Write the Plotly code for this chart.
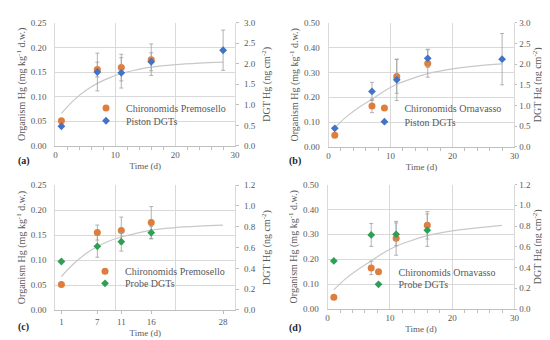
import plotly.graph_objects as go

# ---------------- data ----------------
t_chir = [1, 7, 11, 16]
t_dgt = [1, 7, 11, 16, 28]
t_probe = [1, 7, 11, 16]
fit_t = [1, 3, 5, 7, 9, 11, 13, 16, 20, 24, 28]

# (a) Premosello / piston
chir_prem = [0.051, 0.155, 0.159, 0.175]
chir_prem_err = [0, 0.015, 0.027, 0.032]
piston_prem = [0.48, 1.80, 1.78, 2.05, 2.33]
piston_prem_err = [0, 0.46, 0.37, 0.22, 0.49]
fit_a = [0.066, 0.092, 0.112, 0.127, 0.138, 0.147, 0.153, 0.160, 0.165, 0.168, 0.170]

# (b) Ornavasso / piston
chir_orn = [0.047, 0.165, 0.284, 0.336]
chir_orn_err = [0, 0.027, 0.068, 0.055]
piston_orn = [0.45, 1.34, 1.62, 2.14, 2.12]
piston_orn_err = [0, 0.22, 0.50, 0.22, 0.62]
fit_b = [0.077, 0.124, 0.161, 0.192, 0.225, 0.252, 0.271, 0.295, 0.314, 0.326, 0.334]

# (c) Premosello / probe
probe_prem = [0.466, 0.612, 0.656, 0.743]
probe_prem_err = [0, 0.105, 0.09, 0.06]
fit_c = [0.067, 0.092, 0.112, 0.127, 0.138, 0.146, 0.152, 0.160, 0.165, 0.168, 0.170]

# (d) Ornavasso / probe
probe_orn = [0.464, 0.714, 0.72, 0.76]
probe_orn_err = [0, 0.11, 0.11, 0.156]
fit_d = [0.077, 0.124, 0.161, 0.193, 0.226, 0.252, 0.271, 0.295, 0.314, 0.326, 0.336]

x_ticks_c = [1, 7, 11, 16, 28]

# ---------------- style ----------------
W, H = 550, 340
FONT = "Liberation Serif, DejaVu Serif, serif"
TXT = "#595959"
GRID = "#D9D9D9"
ORANGE = "#DE7D3C"
BLUE = "#4472C4"
GREEN = "#2E9F55"
ERR = "#A0A0A0"
FIT = "#C8C8C8"

def px(x):
    return x / W

def py(y):
    return 1 - y / H

panels = [
    dict(key="a", x=(46, 228), y=(10, 137), yl=0.25, dl=0.05, yr=3.0, dr=0.5,
         chir=chir_prem, chir_err=chir_prem_err, chir_name="Chironomids Premosello",
         dgt_t=t_dgt, dgt=piston_prem, dgt_err=piston_prem_err, dgt_name="Piston DGTs",
         dgt_col=BLUE, fit=fit_a, leg_x=127, leg_y=(108, 121), rstand=8, rlab=3, rlen=3),
    dict(key="b", x=(322.7, 511), y=(10, 138), yl=0.50, dl=0.1, yr=3.0, dr=0.5,
         chir=chir_orn, chir_err=chir_orn_err, chir_name="Chironomids Ornavasso",
         dgt_t=t_dgt, dgt=piston_orn, dgt_err=piston_orn_err, dgt_name="Piston DGTs",
         dgt_col=BLUE, fit=fit_b, leg_x=409, leg_y=(108, 122), rstand=0, rlab=0, rlen=2),
    dict(key="c", x=(46, 228), y=(177.3, 306), yl=0.25, dl=0.05, yr=1.2, dr=0.2,
         chir=chir_prem, chir_err=chir_prem_err, chir_name="Chironomids Premosello",
         dgt_t=t_probe, dgt=probe_prem, dgt_err=probe_prem_err, dgt_name="Probe DGTs",
         dgt_col=GREEN, fit=fit_c, leg_x=126, leg_y=(276, 288.5), rstand=8, rlab=3, rlen=3),
    dict(key="d", x=(321.7, 511), y=(176.7, 305), yl=0.50, dl=0.1, yr=1.2, dr=0.2,
         chir=chir_orn, chir_err=chir_orn_err, chir_name="Chironomids Ornavasso",
         dgt_t=t_probe, dgt=probe_orn, dgt_err=probe_orn_err, dgt_name="Probe DGTs",
         dgt_col=GREEN, fit=fit_d, leg_x=403, leg_y=(276.7, 289.5), rstand=0, rlab=0, rlen=2),
]

LEG_DX = 50   # legend left edge -> text start
LEG_DY = 10   # legend anchor offset

fig = go.Figure()
layout = dict(
    width=W, height=H, margin=dict(l=0, r=0, t=0, b=0),
    paper_bgcolor="white", plot_bgcolor="white",
    font=dict(family=FONT, size=9, color=TXT),
    showlegend=True,
    annotations=[],
)

leg_n = 1
for i, p in enumerate(panels):
    n = i + 1
    xa = "x" if n == 1 else f"x{n}"
    yl_id = 2 * n - 1
    yr_id = 2 * n
    yl = "y" if yl_id == 1 else f"y{yl_id}"
    yr = f"y{yr_id}"
    xkey = "xaxis" if n == 1 else f"xaxis{n}"
    ylkey = "yaxis" if yl_id == 1 else f"yaxis{yl_id}"
    yrkey = f"yaxis{yr_id}"

    xdom = [px(p["x"][0]), px(p["x"][1])]
    ydom = [py(p["y"][1]), py(p["y"][0])]

    xaxis = dict(domain=xdom, anchor=yl, range=[0, 30], showline=True, linecolor="#BFBFBF",
                 linewidth=1, zeroline=False,
                 title=dict(text="Time (d)", font=dict(family=FONT, size=9, color=TXT), standoff=3),
                 tickfont=dict(family=FONT, size=9, color=TXT))
    if p["key"] == "c":
        xaxis.update(tickmode="array", tickvals=x_ticks_c, ticktext=[str(v) for v in x_ticks_c],
                     showgrid=False, ticks="outside", ticklen=3, tickcolor="#BFBFBF",
                     minor=dict(showgrid=True, gridcolor=GRID, gridwidth=1, tick0=0, dtick=10,
                                ticks=""))
    else:
        xaxis.update(dtick=10, tick0=0, showgrid=True, gridcolor=GRID, gridwidth=1,
                     ticks="", minor=dict(ticks="outside", ticklen=3, tickcolor="#BFBFBF",
                                          dtick=2, tick0=0, showgrid=False))
    layout[xkey] = xaxis

    layout[ylkey] = dict(domain=ydom, anchor=xa, range=[0, p["yl"]], dtick=p["dl"], tick0=0,
                         tickformat=".2f", showgrid=True, gridcolor=GRID, gridwidth=1,
                         showline=True, linecolor=GRID, zeroline=False, ticks="",
                         ticklabelstandoff=6,
                         tickfont=dict(family=FONT, size=9, color=TXT),
                         title=dict(text="Organism Hg (mg kg<sup>-1</sup> d.w.)",
                                    font=dict(family=FONT, size=10, color=TXT), standoff=3))
    layout[yrkey] = dict(overlaying=yl, anchor=xa, side="right", range=[0, p["yr"]],
                         dtick=p["dr"], tick0=0, tickformat=".1f", showgrid=False,
                         showline=True, linecolor=GRID, zeroline=False,
                         ticks="outside", ticklen=p["rlen"], tickcolor="#BFBFBF",
                         ticklabelstandoff=p["rlab"],
                         tickfont=dict(family=FONT, size=9, color=TXT),
                         title=dict(text="DGT Hg (ng cm<sup>-2</sup>)",
                                    font=dict(family=FONT, size=10, color=TXT),
                                    standoff=p["rstand"]))

    fig.add_trace(go.Scatter(x=fit_t, y=p["fit"], mode="lines", xaxis=xa, yaxis=yl,
                             line=dict(color=FIT, width=1.2, shape="spline"),
                             showlegend=False, hoverinfo="skip"))
    lg1 = "legend" if leg_n == 1 else f"legend{leg_n}"
    fig.add_trace(go.Scatter(x=t_chir, y=p["chir"], mode="markers", xaxis=xa, yaxis=yl,
                             name=p["chir_name"], legend=lg1,
                             marker=dict(color=ORANGE, size=7, symbol="circle"),
                             error_y=dict(type="data", array=p["chir_err"], color=ERR,
                                          thickness=0.8, width=2)))
    layout[lg1] = dict(x=px(p["leg_x"] - LEG_DX), xanchor="left", y=py(p["leg_y"][0] - LEG_DY),
                       yanchor="middle", bgcolor="rgba(0,0,0,0)", borderwidth=0,
                       font=dict(family=FONT, size=10, color=TXT))
    leg_n += 1
    lg2 = f"legend{leg_n}"
    fig.add_trace(go.Scatter(x=p["dgt_t"], y=p["dgt"], mode="markers", xaxis=xa, yaxis=yr,
                             name=p["dgt_name"], legend=lg2,
                             marker=dict(color=p["dgt_col"], size=6, symbol="diamond"),
                             error_y=dict(type="data", array=p["dgt_err"], color=ERR,
                                          thickness=0.8, width=2)))
    layout[lg2] = dict(x=px(p["leg_x"] - LEG_DX), xanchor="left", y=py(p["leg_y"][1] - LEG_DY),
                       yanchor="middle", bgcolor="rgba(0,0,0,0)", borderwidth=0,
                       font=dict(family=FONT, size=10, color=TXT))
    leg_n += 1

for lab, x, y in [("(a)", 14, 153), ("(b)", 289, 153), ("(c)", 14, 324), ("(d)", 289, 325)]:
    layout["annotations"].append(dict(text=f"<b>{lab}</b>", x=px(x), y=py(y), xref="paper",
                                      yref="paper", showarrow=False, xanchor="center",
                                      yanchor="middle",
                                      font=dict(family=FONT, size=10, color="#262626")))

fig.update_layout(**layout)
fig.write_html("out.html")
